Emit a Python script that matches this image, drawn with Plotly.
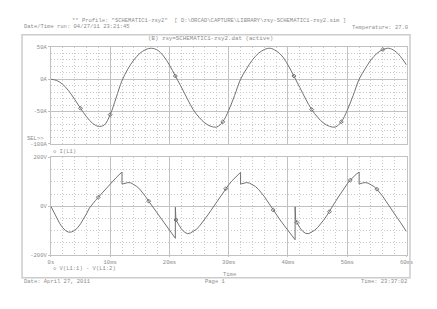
import plotly.graph_objects as go

W, H = 437, 309

# ---------------- data ----------------
t_i = list(range(0, 61))
i_l1 = [0, -2, -8, -18, -31, -45, -58, -68, -73, -71,
        -55, -29, -2, 16, 30, 40, 46, 48, 45, 36,
        22, 5, -12, -30, -47, -59, -68, -73, -74, -66,
        -48, -25, 0, 16, 30, 40, 46, 48, 44, 36,
        22, 5, -13, -31, -47, -59, -68, -73, -74, -66,
        -48, -25, 0, 16, 30, 40, 46, 48, 44, 35, 22]

t_v = [0.0, 0.5, 1.0, 1.5, 2.0, 2.5, 3.0, 3.5, 4.0, 4.5, 5.0, 5.5, 6.0, 6.5,
       7.0, 7.5, 8.0, 8.5, 9.0, 9.5, 10.0, 10.5, 11.0, 11.5, 12.0,
       12.0, 12.5, 13.0, 13.5, 14.0, 14.5, 15.0, 15.5, 16.0, 16.5, 17.0, 17.5,
       18.0, 18.5, 19.0, 19.5, 20.0, 20.5, 21.0,
       21.0, 21.1, 21.5, 22.0, 22.5, 23.0, 23.5, 24.0, 24.5, 25.0, 25.5, 26.0,
       26.5, 27.0, 27.5, 28.0, 28.5, 29.0, 29.5, 30.0, 30.5, 31.0, 31.5, 32.0,
       32.0, 32.5, 33.0, 33.5, 34.0, 34.5, 35.0, 35.5, 36.0, 36.5, 37.0, 37.5,
       38.0, 38.5, 39.0, 39.5, 40.0, 40.5, 41.0, 41.2,
       41.2, 41.3, 41.5, 42.0, 42.5, 43.0, 43.5, 44.0, 44.5, 45.0, 45.5, 46.0,
       46.5, 47.0, 47.5, 48.0, 48.5, 49.0, 49.5, 50.0, 50.5, 51.0, 51.5, 52.0,
       52.0, 52.5, 53.0, 53.5, 54.0, 54.5, 55.0, 55.5, 56.0, 56.5, 57.0, 57.5,
       58.0, 58.5, 59.0, 59.5, 60.0]
v_l1 = [0, -26, -50, -71, -88, -100, -106, -105, -99, -88, -72, -53, -31, -7,
        10, 23, 37, 51, 65, 79, 93, 105, 117, 129, 140,
        91, 95, 97, 96, 90, 81, 70, 56, 39, 21, 4, -14,
        -32, -49, -66, -83, -99, -115, -131,
        -4, -56, -73, -92, -105, -112, -110, -104, -95, -83, -68, -52,
        -35, -17, 1, 19, 37, 55, 72, 88, 103, 116, 128, 139,
        91, 95, 97, 95, 89, 81, 70, 56, 40, 22, 3, -15,
        -33, -50, -67, -84, -100, -116, -131, -137,
        -2, -55, -66, -88, -103, -111, -112, -106, -98, -87, -73, -57,
        -40, -22, 0, 19, 38, 57, 75, 92, 107, 120, 131, 140,
        91, 95, 97, 95, 89, 81, 70, 56, 40, 22, 3, -15,
        -33, -50, -67, -84, -104]

mk_i_t = [5, 10, 21, 29, 41, 44, 49, 56]
mk_v_t = [8.0, 16.5, 21.1, 29.5, 37.5, 41.5, 47.0, 50.5, 55.0]

x_ticks = [0, 10, 20, 30, 40, 50, 60]
x_text = ["0s", "10ms", "20ms", "30ms", "40ms", "50ms", "60ms"]
yi_ticks = [-100, -50, 0, 50]
yi_text = ["-100A", "-50A", "0A", "50A"]
yv_ticks = [-200, 0, 200]
yv_text = ["-200V", "0V", "200V"]

# ---------------- style ----------------
FONT = "Liberation Mono, Courier New, monospace"
TXT = "#8c8c8c"
CURVE = "#727272"
GRID = "#c2c2c2"
MINOR = "#cbcbcb"
FS = 5.5

def px(x):
    return x / W

def py(y):
    return 1 - y / H

fig = go.Figure()

fig.add_trace(go.Scatter(x=t_i, y=i_l1, mode="lines", line=dict(color=CURVE, width=1, shape="spline"),
                         xaxis="x2", yaxis="y", showlegend=False, hoverinfo="skip"))
fig.add_trace(go.Scatter(x=mk_i_t, y=[i_l1[t_i.index(t)] for t in mk_i_t], mode="markers",
                         marker=dict(symbol="diamond-open", size=3, color=CURVE, line=dict(width=1, color=CURVE)),
                         xaxis="x2", yaxis="y", showlegend=False, hoverinfo="skip"))
fig.add_trace(go.Scatter(x=t_v, y=v_l1, mode="lines", line=dict(color=CURVE, width=1),
                         xaxis="x", yaxis="y2", showlegend=False, hoverinfo="skip"))
fig.add_trace(go.Scatter(x=mk_v_t, y=[v_l1[t_v.index(t)] for t in mk_v_t], mode="markers",
                         marker=dict(symbol="diamond-open", size=3, color=CURVE, line=dict(width=1, color=CURVE)),
                         xaxis="x", yaxis="y2", showlegend=False, hoverinfo="skip"))

xdom = [px(49), px(413)]
common_x = dict(range=[0, 60], domain=xdom, tickmode="array", tickvals=x_ticks,
                showgrid=True, gridcolor=GRID, gridwidth=1, zeroline=False,
                showline=True, linecolor=GRID, linewidth=1, mirror=True,
                minor=dict(dtick=2, tick0=0, showgrid=True, gridcolor=MINOR, griddash="1px,2px", gridwidth=1),
                tickfont=dict(family=FONT, size=FS, color=TXT))

fig.update_layout(
    width=W, height=H, margin=dict(l=0, r=0, t=0, b=0),
    paper_bgcolor="white", plot_bgcolor="white",
    xaxis=dict(**common_x, anchor="y2", ticktext=x_text, ticks="outside", ticklen=1, tickcolor=GRID),
    xaxis2=dict(**common_x, anchor="y", matches="x", showticklabels=False, ticks=""),
    yaxis=dict(range=[-100, 50], domain=[py(144), py(45)], anchor="x2",
               tickmode="array", tickvals=yi_ticks, ticktext=yi_text,
               showgrid=True, gridcolor=GRID, zeroline=False,
               showline=True, linecolor=GRID, mirror=True, ticks="outside", ticklen=2, tickcolor=GRID,
               minor=dict(dtick=10, tick0=0, showgrid=True, gridcolor=MINOR, griddash="1px,2px"),
               tickfont=dict(family=FONT, size=FS, color=TXT)),
    yaxis2=dict(range=[-200, 200], domain=[py(258), py(158)], anchor="x",
                tickmode="array", tickvals=yv_ticks, ticktext=yv_text,
                showgrid=True, gridcolor=GRID, zeroline=False,
                showline=True, linecolor=GRID, mirror=True, ticks="outside", ticklen=2, tickcolor=GRID,
                minor=dict(dtick=50, tick0=0, showgrid=True, gridcolor=MINOR, griddash="1px,2px"),
                tickfont=dict(family=FONT, size=FS, color=TXT)),
)

# outer frame
fig.add_shape(type="rect", xref="paper", yref="paper", x0=px(19.5), x1=px(416.5), y0=py(281), y1=py(32.5),
              line=dict(color="#cccccc", width=1.5))

def note(text, x, y, anchor="left", size=FS):
    fig.add_annotation(text=text, x=px(x), y=py(y), xref="paper", yref="paper", showarrow=False,
                       xanchor=anchor, yanchor="middle",
                       font=dict(family=FONT, size=size, color=TXT))

note('** Profile: "SCHEMATIC1-zsy2"  [ D:\\ORCAD\\CAPTURE\\LIBRARY\\zsy-SCHEMATIC1-zsy2.sim ]', 211, 18, "center")
note("Date/Time run: 04/27/11 23:21:45", 19, 24, "left")
note("Temperature: 27.0", 417, 25, "right")
note("(B) zsy=SCHEMATIC1-zsy2.dat (active)", 212, 36.5, "center", 5.8)
note("SEL>>", 44, 139, "right")
note("\u25c7 I(L1)", 49, 152, "left")
note("\u25c7 V(L1:1) - V(L1:2)", 49, 272, "left")
note("Time", 232, 277.5, "center")
note("Date: April 27, 2011", 19, 285, "left")
note("Page 1", 217, 285, "center")
note("Time: 23:37:02", 416, 285, "right")

fig.write_html("out.html")
